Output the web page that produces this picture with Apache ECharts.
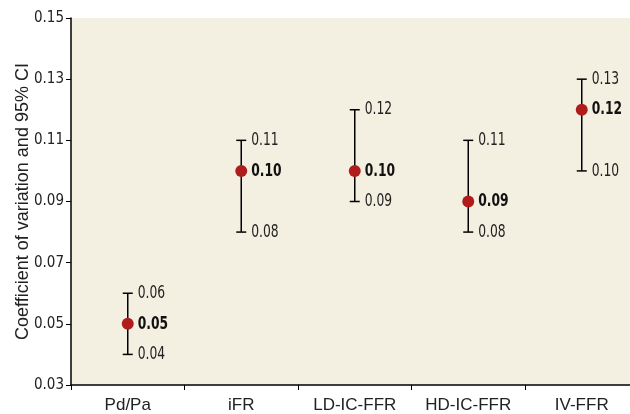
<!DOCTYPE html>
<html><head><meta charset="utf-8">
<script src="https://cdn.jsdelivr.net/npm/echarts@6/dist/echarts.min.js"></script>
<style>html,body{margin:0;padding:0;background:#fff}#c{width:630px;height:414px}</style>
</head><body><div id="c"></div>
<script>
const categories = ['Pd/Pa', 'iFR', 'LD-IC-FFR', 'HD-IC-FFR', 'IV-FFR'];
const means = [0.05, 0.10, 0.10, 0.09, 0.12];
const lower = [0.04, 0.08, 0.09, 0.08, 0.10];
const upper = [0.06, 0.11, 0.12, 0.11, 0.13];
const yTicks = [0.03, 0.05, 0.07, 0.09, 0.11, 0.13, 0.15];

const narrow = "'Liberation Sans Narrow', 'DejaVu Sans Condensed', sans-serif";
const chart = echarts.init(document.getElementById('c'), null, {renderer: 'canvas'});
const errData = categories.map((c, i) => [i, lower[i], upper[i], means[i]]);
chart.setOption({
  animation: false,
  grid: {left: 71, width: 567.5, top: 18, height: 367, outerBoundsMode: 'none', containLabel: false, show: true, backgroundColor: '#f3f0e1', borderWidth: 0},
  xAxis: {
    type: 'category', data: categories,
    axisLine: {lineStyle: {color: '#000', width: 1.5}},
    axisTick: {show: true, length: 5, lineStyle: {color: '#000'}},
    axisLabel: {color: '#222', fontSize: 17, fontFamily: 'Liberation Sans, Arial, sans-serif', margin: 12}
  },
  yAxis: {
    type: 'value', min: yTicks[0], max: yTicks[yTicks.length - 1], interval: 0.02,
    name: 'Coefficient of variation and 95% CI', nameLocation: 'middle', nameGap: 39, nameMoveOverlap: false,
    nameTextStyle: {fontSize: 18, color: '#222', fontFamily: 'Liberation Sans, Arial, sans-serif'},
    axisLine: {show: true, lineStyle: {color: '#000', width: 1.5}},
    axisTick: {show: true, length: 5, lineStyle: {color: '#000'}},
    splitLine: {show: false},
    axisLabel: {color: '#222', fontSize: 15, fontFamily: narrow, margin: 7, formatter: v => v.toFixed(2)}
  },
  series: [
    {
      type: 'custom', data: errData, z: 2,
      renderItem: function (params, api) {
        const x = api.value(0);
        const lo = api.coord([x, api.value(1)]);
        const hi = api.coord([x, api.value(2)]);
        const mid = api.coord([x, api.value(3)]);
        const hw = 5;
        const st = {stroke: '#000', lineWidth: 1.5};
        const ts = (t, y, bold) => ({type: 'text', x: hi[0] + 10, y: y, scaleX: 0.76, z2: 10,
          style: {text: t, x: 0, y: 0, fill: bold ? '#111' : '#222', fontSize: 18, fontWeight: bold ? 'bold' : 'normal', fontFamily: narrow, verticalAlign: 'middle', align: 'left'}});
        return {type: 'group', children: [
          {type: 'line', shape: {x1: lo[0], y1: lo[1], x2: hi[0], y2: hi[1]}, style: st},
          {type: 'line', shape: {x1: lo[0] - hw, y1: lo[1], x2: lo[0] + hw, y2: lo[1]}, style: st},
          {type: 'line', shape: {x1: hi[0] - hw, y1: hi[1], x2: hi[0] + hw, y2: hi[1]}, style: st},
          ts(api.value(2).toFixed(2), hi[1], false),
          ts(api.value(1).toFixed(2), lo[1], false),
          ts(api.value(3).toFixed(2), mid[1], true)
        ]};
      }
    },
    {
      type: 'scatter', data: means, symbolSize: 12, z: 3,
      itemStyle: {color: '#b01c1c', opacity: 1}
    }
  ]
});
</script></body></html>
